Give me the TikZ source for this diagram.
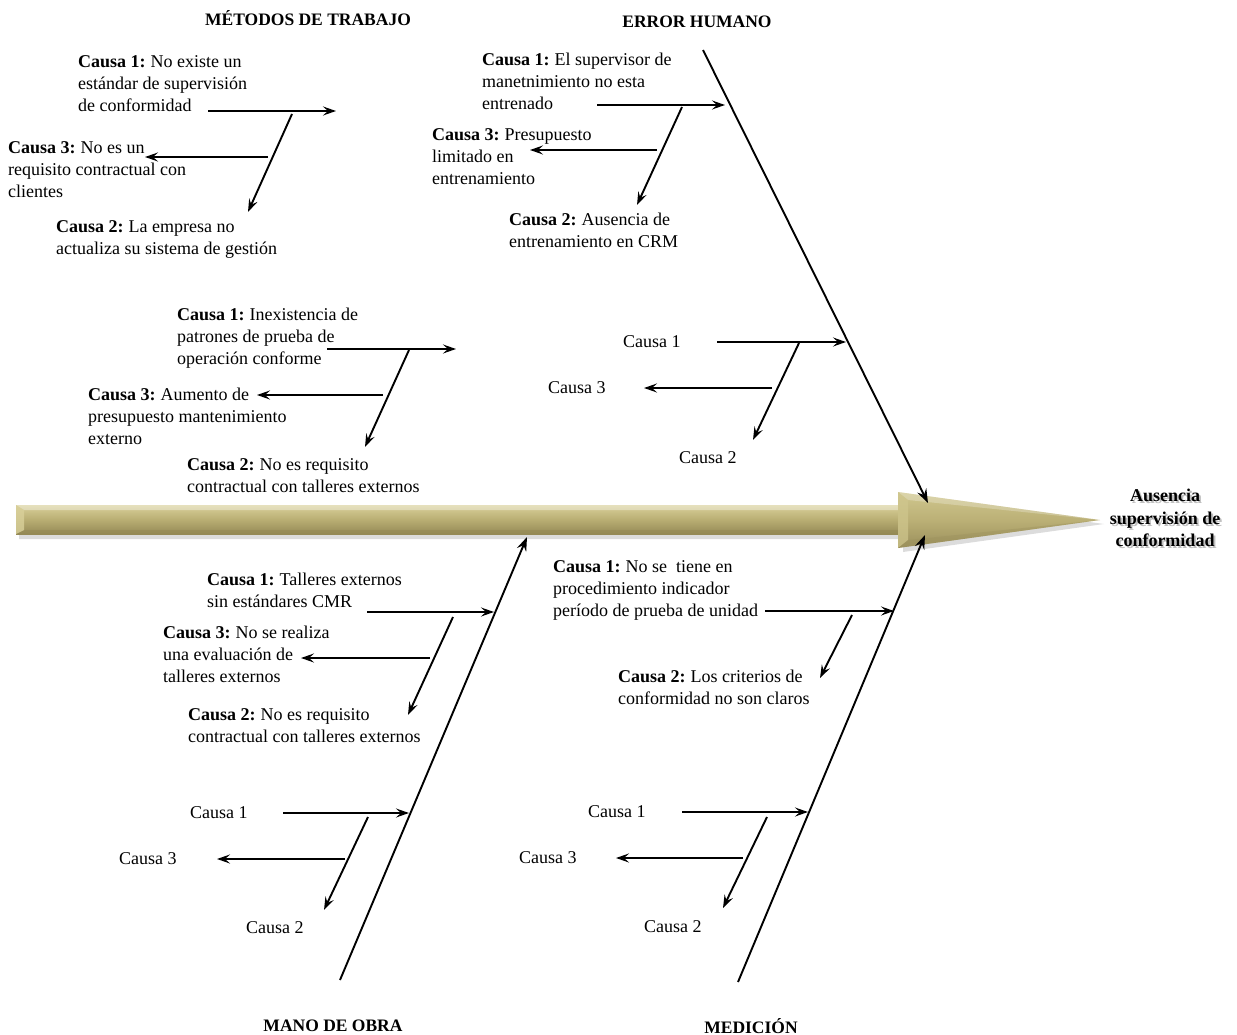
\documentclass[tikz,border=0pt]{standalone}
\usepackage{fontspec}
\setmainfont{Liberation Serif}
\usetikzlibrary{arrows.meta,shadows}
\definecolor{shafttop}{HTML}{D9D09A}
\definecolor{shaftmid}{HTML}{B9AE73}
\definecolor{shaftbot}{HTML}{958A56}
\definecolor{headtop}{HTML}{D0C78E}
\definecolor{headmid}{HTML}{BBB076}
\definecolor{headbot}{HTML}{9A8F5B}
\begin{document}
\begin{tikzpicture}[x=1pt,y=-1pt,
  txt/.style={font=\fontsize{18}{22}\selectfont, align=left, anchor=north west, inner sep=0pt},
  lbl/.style={font=\fontsize{18}{22}\selectfont, anchor=west, inner sep=0pt},
  ttl/.style={font=\fontsize{17.5}{21}\selectfont\bfseries, inner sep=0pt},
  rib/.style={line width=1.9pt, -{Stealth[length=13pt,width=9pt,inset=5pt]}},
  bone/.style={line width=1.9pt, -{Stealth[length=14pt,width=10pt,inset=5pt]}},
]
\useasboundingbox (0,0) rectangle (1237,1035);

% ---- big arrow (spine) ----
\path[fill=black!30, opacity=0.45] (19,509) -- (903,509) -- (903,496) -- (1104,524) -- (903,552) -- (903,539) -- (19,539) -- cycle;
\path[top color=shafttop, bottom color=shaftbot, middle color=shaftmid] (16,505) -- (905,505) -- (905,534) -- (16,534) -- cycle;
\path[fill=white, opacity=0.35] (16,505) -- (905,505) -- (905,510) -- (24,510) -- cycle;
\path[fill=shaftbot, opacity=0.5] (16,534) -- (905,534) -- (905,530) -- (24,530) -- cycle;
\path[fill=shafttop, opacity=0.8] (16,505) -- (24,510) -- (24,530) -- (16,534) -- cycle;
\path[top color=headtop, bottom color=headbot, middle color=headmid] (898,492) -- (1100,520) -- (898,548) -- cycle;
\path[fill=white, opacity=0.25] (898,492) -- (1100,520) -- (908,500) -- cycle;
\path[fill=headtop, opacity=0.7] (898,492) -- (908,500) -- (908,540) -- (898,548) -- cycle;
\path[fill=headbot, opacity=0.35] (898,548) -- (1100,520) -- (908,540) -- cycle;

% ---- titles ----
\node[ttl] (tMet) at (308,18) {MÉTODOS DE TRABAJO};
\node[ttl] (tErr) at (697,22) {ERROR HUMANO};
\node[ttl] (tMan) at (333,1026) {MANO DE OBRA};
\node[ttl] (tMed) at (751,1026) {MEDICIÓN};

% ---- effect ----
\node[font=\fontsize{18}{22.5}\selectfont\bfseries, align=center, inner sep=0pt, text=black!25] (effsh) at (1167,520) {Ausencia\\supervisión de\\conformidad};
\node[font=\fontsize{18}{22.5}\selectfont\bfseries, align=center, inner sep=0pt] (eff) at (1165,518) {Ausencia\\supervisión de\\conformidad};

% ---- main bones ----
\coordinate (bTRs) at (703,50);  \coordinate (bTRe) at (928,503);
\coordinate (bBLs) at (340,980); \coordinate (bBLe) at (527,537);
\coordinate (bBRs) at (738,982); \coordinate (bBRe) at (925,535);
\draw[bone] (bTRs) -- (bTRe);
\draw[bone] (bBLs) -- (bBLe);
\draw[bone] (bBRs) -- (bBRe);

% ---- Metodos de trabajo (top-left) ----
\node[txt] (m1) at (78,55) {\textbf{Causa 1:}\hspace{-1pt} No existe un\\estándar de supervisión\\de conformidad};
\node[txt] (m3) at (8,141) {\textbf{Causa 3:}\hspace{-1pt} No es un\\requisito contractual con\\clientes};
\node[txt] (m2) at (56,220) {\textbf{Causa 2:}\hspace{-1pt} La empresa no\\actualiza su sistema de gestión};
\coordinate (m1s) at (208,111); \coordinate (m1e) at (336,111);
\coordinate (m2s) at (292,114); \coordinate (m2e) at (248,212);
\coordinate (m3s) at (268,157); \coordinate (m3e) at (145,157);
\draw[rib] (m1s) -- (m1e);
\draw[rib] (m2s) -- (m2e);
\draw[rib] (m3s) -- (m3e);

% ---- Error humano (top-middle) ----
\node[txt] (e1) at (482,53) {\textbf{Causa 1:}\hspace{-1pt} El supervisor de\\manetnimiento no esta\\entrenado};
\node[txt] (e3) at (432,128) {\textbf{Causa 3:}\hspace{-1pt} Presupuesto\\limitado en\\entrenamiento};
\node[txt] (e2) at (509,213) {\textbf{Causa 2:}\hspace{-1pt} Ausencia de\\entrenamiento en CRM};
\coordinate (e1s) at (597,105); \coordinate (e1e) at (725,105);
\coordinate (e2s) at (682,107); \coordinate (e2e) at (637,205);
\coordinate (e3s) at (657,150); \coordinate (e3e) at (530,150);
\draw[rib] (e1s) -- (e1e);
\draw[rib] (e2s) -- (e2e);
\draw[rib] (e3s) -- (e3e);

% ---- middle-left group ----
\node[txt] (p1) at (177,308) {\textbf{Causa 1:}\hspace{-1pt} Inexistencia de\\patrones de prueba de\\operación conforme};
\node[txt] (p3) at (88,388) {\textbf{Causa 3:}\hspace{-1pt} Aumento de\\presupuesto mantenimiento\\externo};
\node[txt] (p2) at (187,458) {\textbf{Causa 2:}\hspace{-1pt} No es requisito\\contractual con talleres externos};
\coordinate (p1s) at (327,349); \coordinate (p1e) at (456,349);
\coordinate (p2s) at (409,350); \coordinate (p2e) at (365,447);
\coordinate (p3s) at (383,395); \coordinate (p3e) at (257,395);
\draw[rib] (p1s) -- (p1e);
\draw[rib] (p2s) -- (p2e);
\draw[rib] (p3s) -- (p3e);

% ---- middle-right group ----
\node[lbl] (q1) at (623,342) {Causa 1};
\node[lbl] (q3) at (548,388) {Causa 3};
\node[lbl] (q2) at (679,458) {Causa 2};
\coordinate (q1s) at (717,342); \coordinate (q1e) at (846,342);
\coordinate (q2s) at (799,343); \coordinate (q2e) at (753,440);
\coordinate (q3s) at (772,388); \coordinate (q3e) at (644,388);
\draw[rib] (q1s) -- (q1e);
\draw[rib] (q2s) -- (q2e);
\draw[rib] (q3s) -- (q3e);

% ---- Mano de obra, upper ----
\node[txt] (a1) at (207,573) {\textbf{Causa 1:}\hspace{-1pt} Talleres externos\\sin estándares CMR};
\node[txt] (a3) at (163,626) {\textbf{Causa 3:}\hspace{-1pt} No se realiza\\una evaluación de\\talleres externos};
\node[txt] (a2) at (188,708) {\textbf{Causa 2:}\hspace{-1pt} No es requisito\\contractual con talleres externos};
\coordinate (a1s) at (367,612); \coordinate (a1e) at (494,612);
\coordinate (a2s) at (453,617); \coordinate (a2e) at (408,715);
\coordinate (a3s) at (430,658); \coordinate (a3e) at (301,658);
\draw[rib] (a1s) -- (a1e);
\draw[rib] (a2s) -- (a2e);
\draw[rib] (a3s) -- (a3e);

% ---- Medicion, upper ----
\node[txt] (c1) at (553,560) {\textbf{Causa 1:}\hspace{-1pt} No se~ tiene en\\procedimiento indicador\\período de prueba de unidad};
\node[txt] (c2) at (618,670) {\textbf{Causa 2:}\hspace{-1pt} Los criterios de\\conformidad no son claros};
\coordinate (c1s) at (765,611); \coordinate (c1e) at (894,611);
\coordinate (c2s) at (852,615); \coordinate (c2e) at (820,678);
\draw[rib] (c1s) -- (c1e);
\draw[rib] (c2s) -- (c2e);

% ---- Mano de obra, lower ----
\node[lbl] (b1) at (190,813) {Causa 1};
\node[lbl] (b3) at (119,859) {Causa 3};
\node[lbl] (b2) at (246,928) {Causa 2};
\coordinate (b1s) at (283,813); \coordinate (b1e) at (409,813);
\coordinate (b2s) at (368,817); \coordinate (b2e) at (324,910);
\coordinate (b3s) at (345,859); \coordinate (b3e) at (217,859);
\draw[rib] (b1s) -- (b1e);
\draw[rib] (b2s) -- (b2e);
\draw[rib] (b3s) -- (b3e);

% ---- Medicion, lower ----
\node[lbl] (d1) at (588,812) {Causa 1};
\node[lbl] (d3) at (519,858) {Causa 3};
\node[lbl] (d2) at (644,927) {Causa 2};
\coordinate (d1s) at (682,812); \coordinate (d1e) at (808,812);
\coordinate (d2s) at (767,817); \coordinate (d2e) at (723,908);
\coordinate (d3s) at (743,858); \coordinate (d3e) at (616,858);
\draw[rib] (d1s) -- (d1e);
\draw[rib] (d2s) -- (d2e);
\draw[rib] (d3s) -- (d3e);
\end{tikzpicture}
\end{document}
